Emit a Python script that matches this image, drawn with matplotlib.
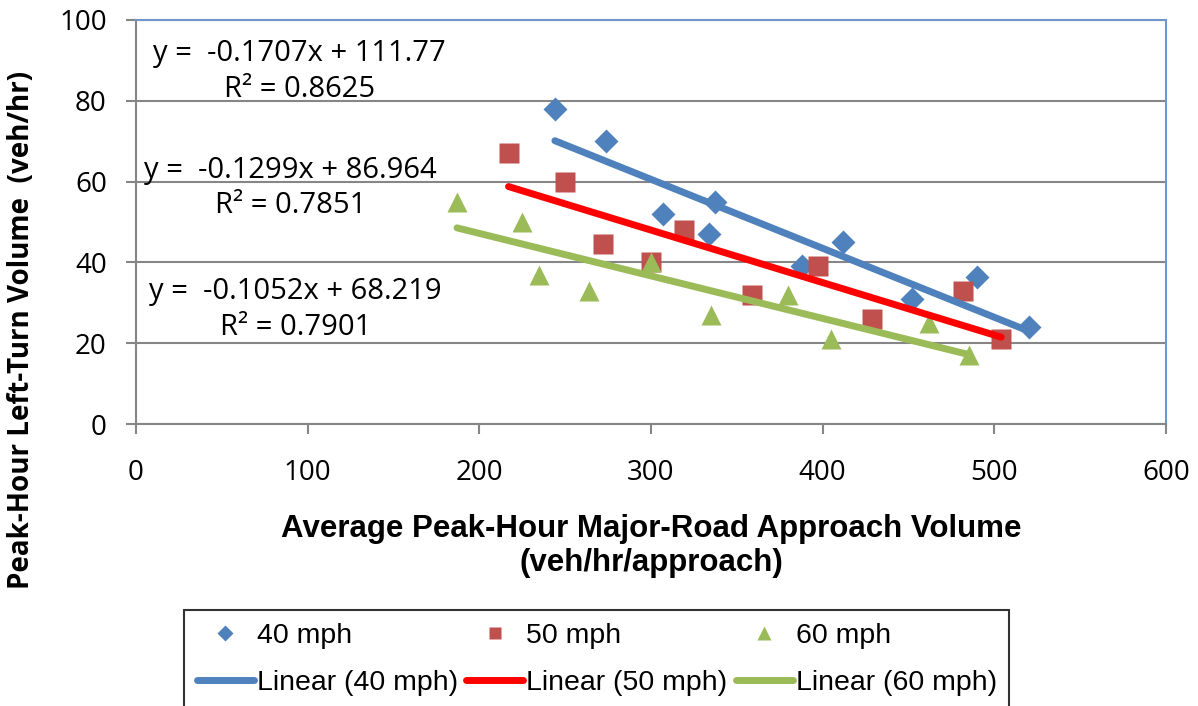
import numpy as np
import matplotlib.pyplot as plt

# data
x40 = [244, 274, 307, 334, 337, 388, 412, 452, 490, 520]
y40 = [78, 70, 52, 47, 55, 39, 45, 31, 36.5, 24]
x50 = [217, 250, 272, 300, 319, 359, 397, 429, 482, 504]
y50 = [67, 60, 44.5, 40, 48, 32, 39, 26, 33, 21]
x60 = [187, 225, 235, 264, 300, 335, 380, 405, 462, 485]
y60 = [55, 50, 37, 33, 40, 27, 32, 21, 25, 17]

slopes = [-0.1707, -0.1299, -0.1052]
intercepts = [111.77, 86.964, 68.219]
r2 = [0.8625, 0.7851, 0.7901]
labels = ["40 mph", "50 mph", "60 mph"]

marker_colors = ["#4F81BD", "#C0504D", "#9BBB59"]
line_colors = ["#4F81BD", "#FF0000", "#9BBB59"]
markers = ["D", "s", "^"]
msizes = [12, 14, 15]

W, H = 1198, 706
fig = plt.figure(figsize=(W / 100, H / 100), dpi=100)
ax = fig.add_axes([136 / W, 1 - 424 / H, (1166 - 136) / W, (424 - 20) / H])

grey = "#868686"
ax.set_xlim(0, 600)
ax.set_ylim(0, 100)
ax.set_xticks(np.arange(0, 601, 100))
ax.set_yticks(np.arange(0, 101, 20))
ax.yaxis.grid(True, color=grey, lw=1.5)
ax.set_axisbelow(True)
for s in ["left", "bottom"]:
    ax.spines[s].set_color(grey)
    ax.spines[s].set_linewidth(1.5)
for s in ["top", "right"]:
    ax.spines[s].set_color("#6F97CC")
    ax.spines[s].set_linewidth(1.5)
ax.tick_params(axis="both", direction="out", length=7, width=1.5, color=grey,
               labelsize=20)
ax.tick_params(axis="y", pad=14)
ax.tick_params(axis="x", pad=18)
for t in ax.get_xticklabels() + ax.get_yticklabels():
    t.set_fontfamily(["Open Sans", "DejaVu Sans"])

series = [(x40, y40), (x50, y50), (x60, y60)]
handles = []
for i, (xs, ys) in enumerate(series):
    pts, = ax.plot(xs, ys, linestyle="none", marker=markers[i], ms=msizes[i],
                   color=marker_colors[i], mec="none", zorder=3)
    xx = np.array([min(xs), max(xs)])
    ln, = ax.plot(xx, slopes[i] * xx + intercepts[i], color=line_colors[i],
                  lw=5, solid_capstyle="round", zorder=4)
    handles += [pts, ln]

# trendline equations
eq_pos = [(95, 87.3), (90, 58.4), (93, 28.3)]
for i in range(3):
    txt = "y =  %.4fx + %s\nR\u00b2 = %.4f" % (slopes[i], ("%.3f" % intercepts[i]).rstrip("0"), r2[i])
    ax.text(eq_pos[i][0], eq_pos[i][1], txt, ha="center", va="center",
            multialignment="center", fontsize=21, linespacing=1.3,
            family=["Open Sans", "DejaVu Sans"], zorder=5)

fig.text(22 / W, 1 - 330 / H, "Peak-Hour Left-Turn Volume  (veh/hr)", rotation=90,
         ha="center", va="center", fontsize=20, fontweight="bold",
         family=["Open Sans", "DejaVu Sans"])
fig.text(651 / W, 1 - 546 / H, "Average Peak-Hour Major-Road Approach Volume\n(veh/hr/approach)",
         ha="center", va="center", multialignment="center", fontsize=22.5,
         fontweight="bold", linespacing=1.15,
         family=["Liberation Sans", "DejaVu Sans"])

leg_labels = []
for l in labels:
    leg_labels += [l, "Linear (%s)" % l]
leg = fig.legend(handles, leg_labels, ncol=3, loc="upper left",
                 bbox_to_anchor=(184 / W, 1 - 610 / H), bbox_transform=fig.transFigure,
                 frameon=True, fancybox=False, edgecolor="black", borderaxespad=0,
                 handlelength=2.0, handletextpad=0.1, columnspacing=0.3,
                 labelspacing=0.75, borderpad=0.45, markerscale=0.65,
                 prop={"family": ["Liberation Sans", "DejaVu Sans"], "size": 20.5})
leg.get_frame().set_linewidth(1.5)

fig.savefig("out.png", dpi=100)
